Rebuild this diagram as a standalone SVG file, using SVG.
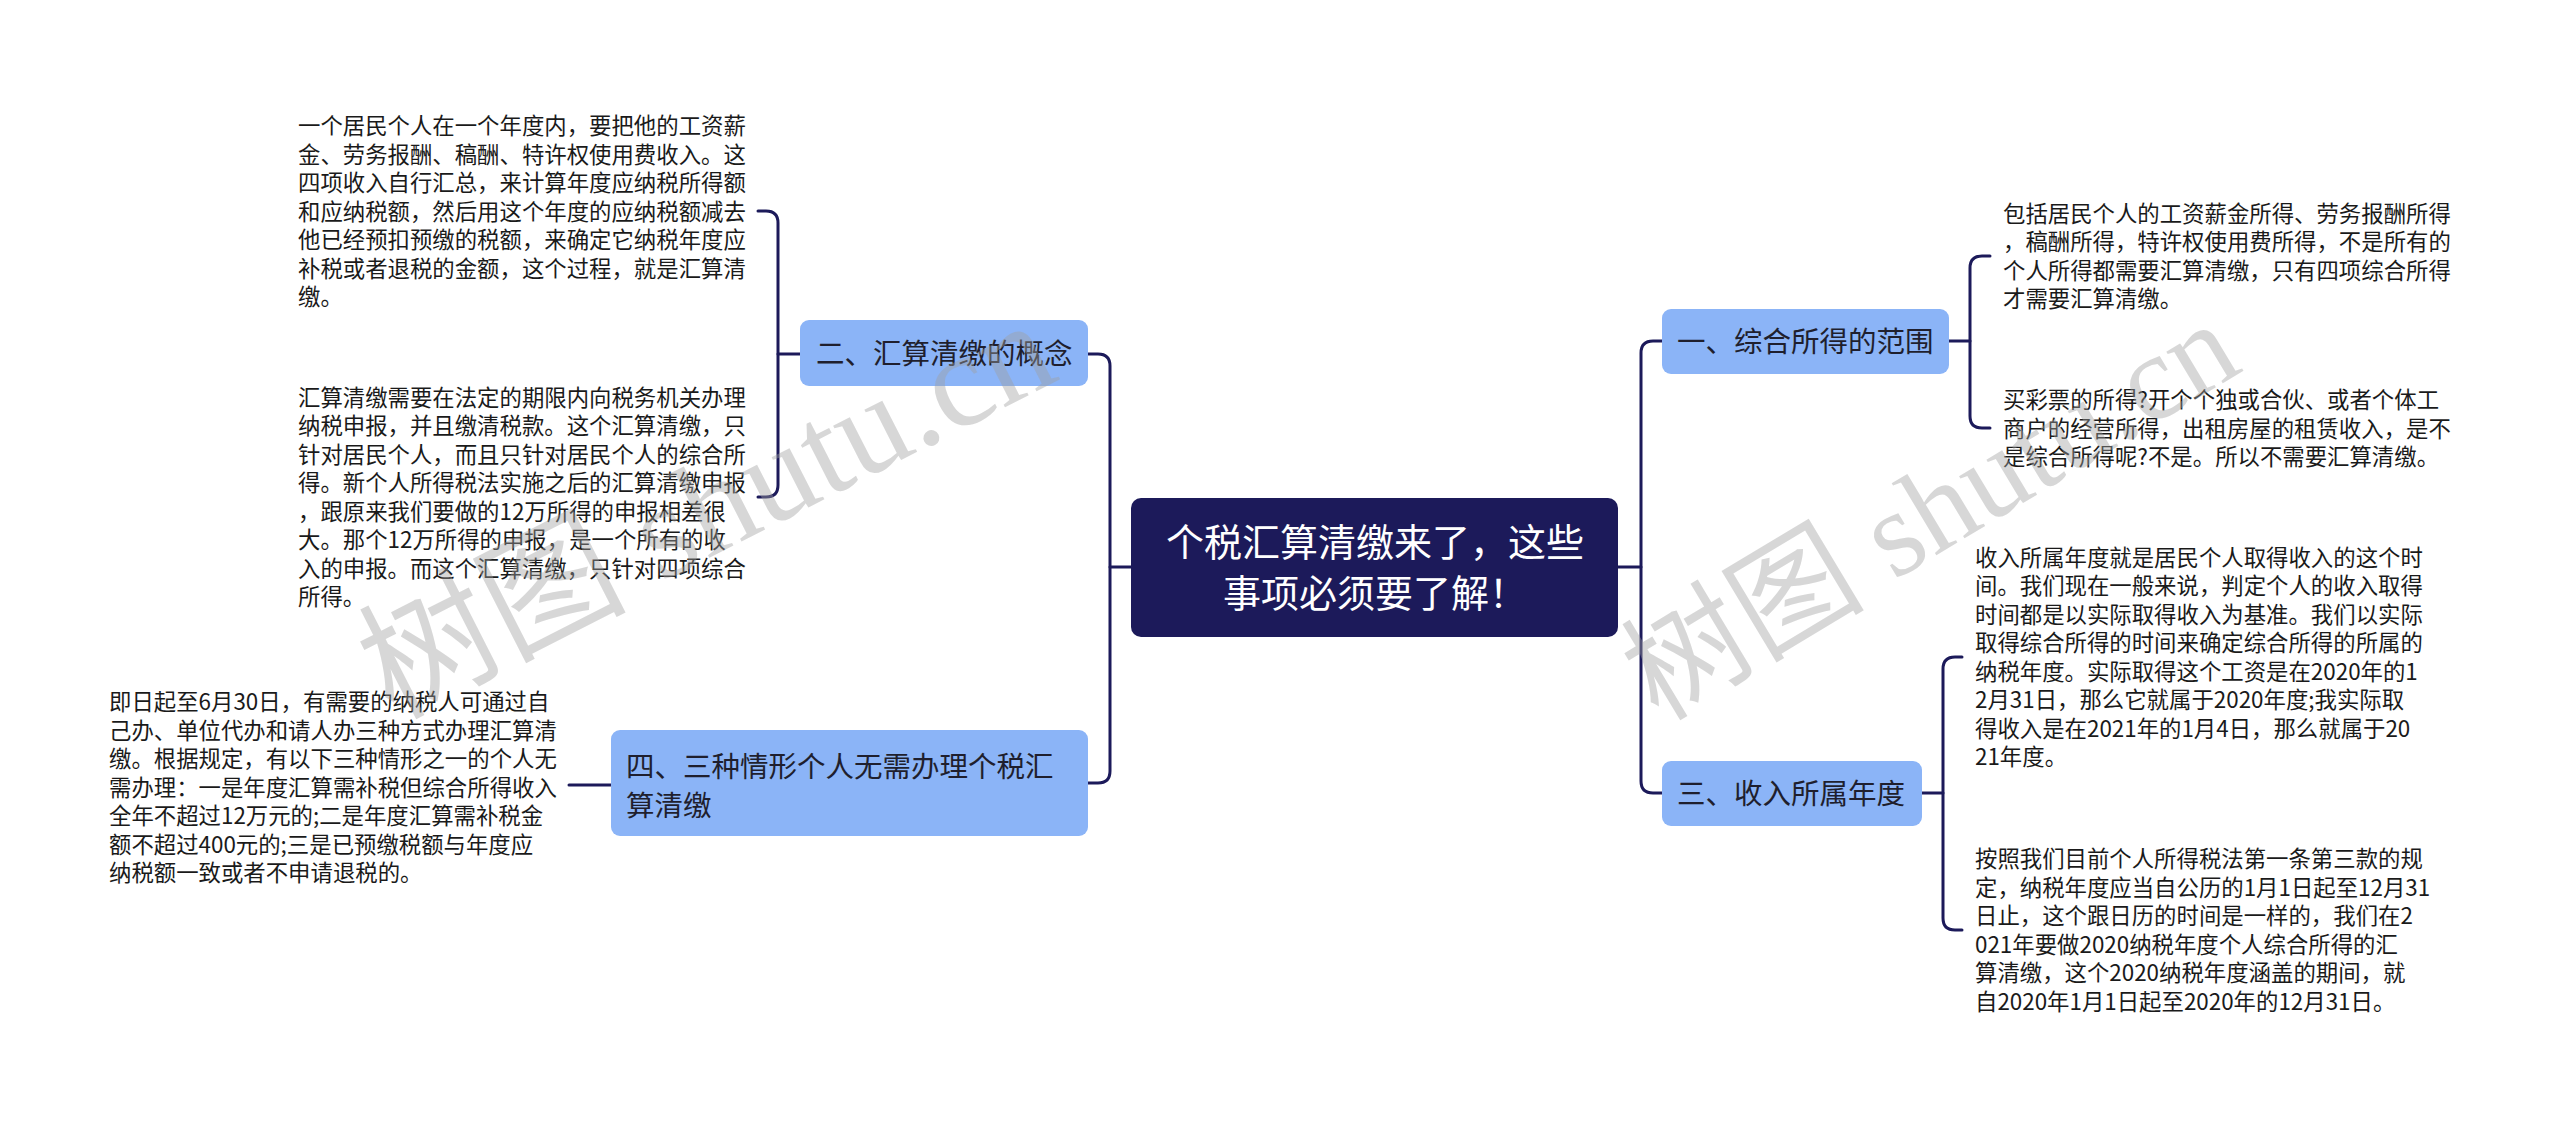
<svg xmlns="http://www.w3.org/2000/svg" width="2560" height="1125" viewBox="0 0 2560 1125">
<style>
.bg{fill:#ffffff}
.conn{fill:none;stroke:#1c1a5a;stroke-width:3;stroke-linecap:round;stroke-linejoin:round}
.root{fill:#1c1a5a}
.rootText{font-family:"Noto Sans CJK SC","Noto Sans",sans-serif;font-size:38px;fill:#ffffff;text-anchor:middle}
.topic{fill:#8bb4f7}
.topicText{font-family:"Noto Sans CJK SC","Noto Sans",sans-serif;font-size:28.5px;fill:#1f1f2e}
.leaf{font-family:"Noto Sans CJK SC","Noto Sans",sans-serif;font-size:22.4px;fill:#1a1a1a}
.wm{font-family:"Liberation Serif","Noto Sans CJK SC",serif;fill:#a0a0a0;fill-opacity:0.42;text-anchor:middle}
</style>
<rect class="bg" x="0" y="0" width="2560" height="1125"/>

<g id="connectors">
  <path class="conn" d="M1088,354 H1098 Q1110,354 1110,366 V771 Q1110,783 1098,783 H1088"/>
  <path class="conn" d="M1110,567 H1131"/>
  <path class="conn" d="M1662,341 H1653 Q1641,341 1641,353 V781 Q1641,793 1653,793 H1662"/>
  <path class="conn" d="M1618,567 H1641"/>
  <path class="conn" d="M1990,256 H1982 Q1970,256 1970,268 V416 Q1970,428 1982,428 H1990"/>
  <path class="conn" d="M1949,341 H1970"/>
  <path class="conn" d="M1962,657 H1955 Q1943,657 1943,669 V918 Q1943,930 1955,930 H1962"/>
  <path class="conn" d="M1922,793 H1943"/>
  <path class="conn" d="M758,211 H766 Q778,211 778,223 V485 Q778,497 766,497 H758"/>
  <path class="conn" d="M778,354 H800"/>
  <path class="conn" d="M569,785 H611"/>
</g>

<g id="root">
  <rect class="root" x="1131" y="498" width="487" height="139" rx="10"/>
  <text class="rootText" x="1375" y="556">个税汇算清缴来了，这些</text>
  <text class="rootText" x="1375" y="607">事项必须要了解！</text>
</g>

<g id="node-1">
  <rect class="topic" x="1662" y="309" width="287" height="65" rx="9"/>
  <text class="topicText" x="1677" y="352">一、综合所得的范围</text>
</g>
<g id="node-2">
  <rect class="topic" x="800" y="320" width="288" height="66" rx="9"/>
  <text class="topicText" x="816" y="364">二、汇算清缴的概念</text>
</g>
<g id="node-3">
  <rect class="topic" x="1662" y="761" width="260" height="65" rx="9"/>
  <text class="topicText" x="1677" y="804">三、收入所属年度</text>
</g>
<g id="node-4">
  <rect class="topic" x="611" y="730" width="477" height="106" rx="9"/>
  <text class="topicText" x="626" y="777">四、三种情形个人无需办理个税汇</text>
  <text class="topicText" x="626" y="816">算清缴</text>
</g>

<g id="leaf-1a">
  <text class="leaf" x="2003" y="221.8">包括居民个人的工资薪金所得、劳务报酬所得</text>
  <text class="leaf" x="2003" y="250.3">，稿酬所得，特许权使用费所得，不是所有的</text>
  <text class="leaf" x="2003" y="278.8">个人所得都需要汇算清缴，只有四项综合所得</text>
  <text class="leaf" x="2003" y="307.3">才需要汇算清缴。</text>
</g>
<g id="leaf-1b">
  <text class="leaf" x="2003" y="408">买彩票的所得?开个个独或合伙、或者个体工</text>
  <text class="leaf" x="2003" y="436.5">商户的经营所得，出租房屋的租赁收入，是不</text>
  <text class="leaf" x="2003" y="465">是综合所得呢?不是。所以不需要汇算清缴。</text>
</g>

<g id="leaf-2a">
  <text class="leaf" x="298" y="134">一个居民个人在一个年度内，要把他的工资薪</text>
  <text class="leaf" x="298" y="162.5">金、劳务报酬、稿酬、特许权使用费收入。这</text>
  <text class="leaf" x="298" y="191">四项收入自行汇总，来计算年度应纳税所得额</text>
  <text class="leaf" x="298" y="219.5">和应纳税额，然后用这个年度的应纳税额减去</text>
  <text class="leaf" x="298" y="248">他已经预扣预缴的税额，来确定它纳税年度应</text>
  <text class="leaf" x="298" y="276.5">补税或者退税的金额，这个过程，就是汇算清</text>
  <text class="leaf" x="298" y="305">缴。</text>
</g>
<g id="leaf-2b">
  <text class="leaf" x="298" y="405.8">汇算清缴需要在法定的期限内向税务机关办理</text>
  <text class="leaf" x="298" y="434.3">纳税申报，并且缴清税款。这个汇算清缴，只</text>
  <text class="leaf" x="298" y="462.8">针对居民个人，而且只针对居民个人的综合所</text>
  <text class="leaf" x="298" y="491.3">得。新个人所得税法实施之后的汇算清缴申报</text>
  <text class="leaf" x="298" y="519.8">，跟原来我们要做的12万所得的申报相差很</text>
  <text class="leaf" x="298" y="548.3">大。那个12万所得的申报，是一个所有的收</text>
  <text class="leaf" x="298" y="576.8">入的申报。而这个汇算清缴，只针对四项综合</text>
  <text class="leaf" x="298" y="605.3">所得。</text>
</g>

<g id="leaf-3a">
  <text class="leaf" x="1975" y="565.8">收入所属年度就是居民个人取得收入的这个时</text>
  <text class="leaf" x="1975" y="594.3">间。我们现在一般来说，判定个人的收入取得</text>
  <text class="leaf" x="1975" y="622.8">时间都是以实际取得收入为基准。我们以实际</text>
  <text class="leaf" x="1975" y="651.3">取得综合所得的时间来确定综合所得的所属的</text>
  <text class="leaf" x="1975" y="679.8">纳税年度。实际取得这个工资是在2020年的1</text>
  <text class="leaf" x="1975" y="708.3">2月31日，那么它就属于2020年度;我实际取</text>
  <text class="leaf" x="1975" y="736.8">得收入是在2021年的1月4日，那么就属于20</text>
  <text class="leaf" x="1975" y="765.3">21年度。</text>
</g>
<g id="leaf-3b">
  <text class="leaf" x="1975" y="867.3">按照我们目前个人所得税法第一条第三款的规</text>
  <text class="leaf" x="1975" y="895.8">定，纳税年度应当自公历的1月1日起至12月31</text>
  <text class="leaf" x="1975" y="924.3">日止，这个跟日历的时间是一样的，我们在2</text>
  <text class="leaf" x="1975" y="952.8">021年要做2020纳税年度个人综合所得的汇</text>
  <text class="leaf" x="1975" y="981.3">算清缴，这个2020纳税年度涵盖的期间，就</text>
  <text class="leaf" x="1975" y="1009.8">自2020年1月1日起至2020年的12月31日。</text>
</g>

<g id="leaf-4a">
  <text class="leaf" x="109" y="710">即日起至6月30日，有需要的纳税人可通过自</text>
  <text class="leaf" x="109" y="738.5">己办、单位代办和请人办三种方式办理汇算清</text>
  <text class="leaf" x="109" y="767">缴。根据规定，有以下三种情形之一的个人无</text>
  <text class="leaf" x="109" y="795.5">需办理：一是年度汇算需补税但综合所得收入</text>
  <text class="leaf" x="109" y="824">全年不超过12万元的;二是年度汇算需补税金</text>
  <text class="leaf" x="109" y="852.5">额不超过400元的;三是已预缴税额与年度应</text>
  <text class="leaf" x="109" y="881">纳税额一致或者不申请退税的。</text>
</g>

<g id="watermarks">
  <text class="wm" font-size="134" transform="translate(706,508) rotate(-27)" x="0" y="46">树图 shutu.cn</text>
  <text class="wm" font-size="122" transform="translate(1930,510) rotate(-31)" x="0" y="42">树图 shutu.cn</text>
</g>
</svg>
